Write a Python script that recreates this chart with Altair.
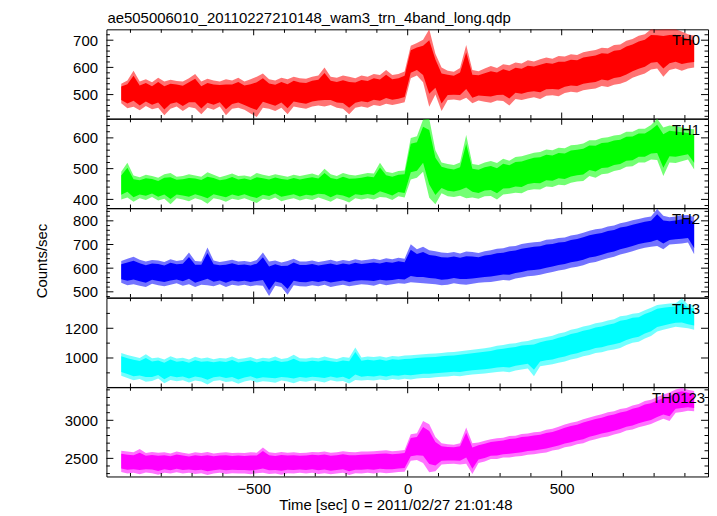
import altair as alt
import pandas as pd

# ---------------- data ----------------
TIME = list(range(-930, 931, 20))  # 20-s bins: envelope (low, high) of each bin

TH0_HI = [540, 552, 588, 548, 556, 545, 562, 548, 555, 550,
          548, 560, 576, 548, 558, 552, 548, 556, 552, 562,
          548, 556, 566, 578, 556, 552, 562, 556, 566, 560,
          558, 566, 570, 600, 566, 562, 570, 566, 560, 570,
          566, 576, 572, 590, 572, 576, 585, 680, 690, 702,
          740, 650, 600, 588, 584, 598, 682, 590, 586, 596,
          605, 598, 612, 608, 618, 614, 626, 622, 630, 636,
          632, 642, 640, 648, 646, 656, 660, 664, 672, 670,
          682, 684, 698, 704, 716, 722, 740, 738, 740, 740,
          740, 732, 722, 716]
TH0_LO = [468, 450, 455, 442, 458, 446, 452, 424, 448, 456,
          440, 454, 450, 428, 452, 444, 456, 424, 448, 452,
          444, 430, 418, 452, 448, 440, 452, 428, 456, 452,
          448, 456, 460, 456, 462, 452, 448, 428, 452, 456,
          452, 462, 458, 466, 462, 466, 472, 560, 570, 545,
          455, 500, 440, 480, 482, 478, 488, 468, 478, 474,
          470, 478, 476, 460, 484, 480, 486, 490, 484, 496,
          498, 494, 506, 510, 508, 516, 520, 522, 532, 528,
          536, 540, 548, 562, 570, 578, 592, 596, 566, 590,
          596, 588, 596, 600]

TH1_HI = [490, 519, 478, 472, 480, 476, 470, 482, 486, 474,
          476, 482, 478, 474, 488, 480, 472, 478, 484, 476,
          478, 474, 486, 480, 476, 482, 478, 474, 480, 476,
          480, 484, 478, 500, 482, 476, 486, 480, 478, 482,
          486, 484, 519, 490, 486, 492, 494, 600, 605, 660,
          662, 560, 520, 515, 512, 520, 609, 515, 512, 520,
          525, 518, 532, 526, 538, 540, 546, 552, 554, 562,
          560, 568, 566, 576, 578, 582, 592, 592, 600, 602,
          608, 610, 620, 620, 630, 630, 642, 662, 634, 640,
          638, 634, 630, 628]
TH1_LO = [400, 406, 392, 404, 398, 408, 396, 402, 384, 404,
          400, 394, 404, 398, 386, 404, 400, 392, 402, 398,
          404, 396, 388, 402, 398, 406, 394, 400, 404, 396,
          402, 398, 406, 400, 392, 404, 398, 390, 404, 400,
          404, 400, 408, 406, 398, 410, 406, 465, 470, 490,
          405, 384, 420, 410, 408, 412, 404, 406, 402, 410,
          411, 400, 416, 418, 422, 420, 430, 433, 432, 442,
          440, 448, 446, 454, 458, 460, 476, 470, 482, 484,
          492, 496, 506, 508, 520, 520, 530, 528, 476, 520,
          518, 524, 530, 497]

TH2_HI = [630, 640, 648, 636, 628, 634, 632, 626, 638, 630,
          634, 666, 630, 628, 687, 632, 626, 630, 636, 628,
          630, 626, 634, 666, 628, 632, 624, 630, 640, 628,
          628, 632, 626, 630, 636, 628, 634, 630, 638, 632,
          636, 640, 634, 642, 638, 644, 640, 701, 680, 690,
          676, 672, 666, 664, 668, 662, 670, 668, 664, 672,
          676, 682, 684, 692, 694, 702, 706, 710, 712, 720,
          722, 728, 730, 738, 742, 750, 758, 764, 768, 776,
          780, 790, 795, 802, 808, 814, 818, 850, 822, 815,
          818, 824, 825, 815]
TH2_LO = [538, 528, 532, 526, 520, 534, 528, 524, 530, 536,
          526, 532, 520, 530, 528, 524, 532, 520, 530, 526,
          530, 524, 528, 526, 482, 526, 520, 488, 528, 524,
          522, 528, 524, 530, 520, 526, 530, 524, 528, 532,
          530, 526, 534, 528, 532, 536, 534, 540, 538, 536,
          534, 532, 528, 530, 536, 532, 530, 534, 538, 540,
          542, 546, 550, 548, 556, 560, 566, 568, 572, 578,
          584, 590, 594, 602, 606, 612, 622, 626, 634, 642,
          648, 658, 664, 672, 680, 686, 690, 694, 680, 700,
          702, 704, 708, 659]

TH3_HI = [1033, 1020, 1010, 1000, 1026, 998, 1004, 990, 1012, 996,
          1002, 990, 1008, 996, 1004, 992, 1000, 996, 1010, 994,
          998, 1006, 992, 1002, 996, 1010, 994, 1000, 1022, 998,
          996, 1004, 998, 1010, 1000, 994, 1006, 1002, 1071, 1004,
          1010, 1006, 1012, 1004, 1014, 1010, 1016, 1018, 1022, 1026,
          1028, 1030, 1034, 1038, 1040, 1046, 1050, 1056, 1060, 1066,
          1072, 1082, 1088, 1096, 1100, 1110, 1114, 1126, 1133, 1142,
          1150, 1164, 1174, 1190, 1198, 1212, 1220, 1234, 1240, 1252,
          1260, 1280, 1286, 1298, 1302, 1322, 1338, 1356, 1362, 1366,
          1368, 1400, 1360, 1356]
TH3_LO = [880, 866, 850, 858, 840, 846, 862, 830, 852, 844,
          850, 836, 848, 842, 822, 846, 850, 838, 844, 826,
          842, 850, 836, 844, 840, 834, 848, 842, 830, 846,
          840, 848, 844, 836, 850, 842, 846, 828, 852, 848,
          852, 848, 856, 850, 858, 854, 860, 856, 862, 866,
          866, 870, 874, 876, 880, 878, 884, 889, 892, 896,
          900, 906, 910, 904, 916, 922, 930, 878, 944, 952,
          958, 968, 976, 990, 998, 1012, 1020, 1034, 1038, 1050,
          1058, 1067, 1088, 1102, 1110, 1132, 1148, 1178, 1190, 1200,
          1210, 1206, 1200, 1190]

TH0123_HI = [2600, 2590, 2580, 2622, 2570, 2585, 2575, 2580, 2565, 2590,
             2575, 2560, 2580, 2570, 2585, 2565, 2575, 2580, 2570, 2575,
             2570, 2580, 2575, 2643, 2580, 2570, 2585, 2575, 2580, 2570,
             2575, 2585, 2580, 2590, 2575, 2580, 2595, 2585, 2580, 2590,
             2590, 2595, 2600, 2605, 2595, 2600, 2610, 2817, 2830, 2991,
             2948, 2780, 2700, 2687, 2680, 2700, 2904, 2700, 2710, 2730,
             2752, 2765, 2772, 2795, 2798, 2820, 2826, 2842, 2850, 2875,
             2888, 2915, 2945, 2968, 2985, 3015, 3036, 3060, 3078, 3105,
             3118, 3148, 3162, 3195, 3215, 3255, 3270, 3305, 3338, 3365,
             3404, 3425, 3400, 3385]
TH0123_LO = [2320, 2300, 2310, 2290, 2315, 2305, 2285, 2310, 2300, 2318,
             2300, 2310, 2295, 2305, 2280, 2300, 2310, 2295, 2305, 2300,
             2300, 2290, 2305, 2310, 2295, 2300, 2285, 2305, 2300, 2310,
             2300, 2310, 2295, 2305, 2290, 2300, 2310, 2280, 2305, 2300,
             2310, 2300, 2315, 2305, 2310, 2320, 2325, 2470, 2480, 2440,
             2317, 2330, 2420, 2426, 2430, 2420, 2430, 2296, 2440, 2460,
             2491, 2490, 2510, 2512, 2525, 2530, 2548, 2555, 2568, 2578,
             2602, 2618, 2645, 2658, 2684, 2698, 2732, 2750, 2774, 2788,
             2812, 2832, 2865, 2878, 2908, 2928, 2950, 2988, 3022, 2991,
             3100, 3108, 3124, 3118]

NAMES = ["TH0", "TH1", "TH2", "TH3", "TH0123"]
HIS = [TH0_HI, TH1_HI, TH2_HI, TH3_HI, TH0123_HI]
LOS = [TH0_LO, TH1_LO, TH2_LO, TH3_LO, TH0123_LO]
COLORS = ["#ff0000", "#00ff00", "#0000ff", "#00ffff", "#ff00ff"]

Y_DOMAINS = [[412, 740], [372, 662], [476, 853], [805, 1405], [2262, 3434]]
Y_MAJOR = [[500, 600, 700], [400, 500, 600], [500, 600, 700, 800],
           [1000, 1200], [2500, 3000]]
Y_MINOR = [
    [420, 440, 460, 480, 520, 540, 560, 580, 620, 640, 660, 680, 720],
    [380, 420, 440, 460, 480, 520, 540, 560, 580, 620, 640, 660],
    [480, 520, 540, 560, 580, 620, 640, 660, 680, 720, 740, 760, 780, 820, 840],
    [900, 1100, 1300],
    [2300, 2400, 2600, 2700, 2800, 2900, 3100, 3200, 3300, 3400],
]
X_DOMAIN = [-978, 975]
X_MAJOR = [-500, 0, 500]
X_MINOR = [-900, -800, -700, -600, -400, -300, -200, -100,
           100, 200, 300, 400, 600, 700, 800, 900]

TITLE = "ae505006010_20110227210148_wam3_trn_4band_long.qdp"
X_TITLE = "Time [sec] 0 = 2011/02/27 21:01:48"
Y_TITLE = "Counts/sec"

# ---------------- layout ----------------
W, H = 605, 89.7
FONT = "Liberation Sans"
FS = 15
MAJ, MIN = 7, 3.5
LABEL_RIGHT = [8, 8, 8, 8, 3]


def text_layer(txt, x, y, align="left", angle=0):
    kw = dict(align=align, baseline="alphabetic", font=FONT, fontSize=FS, color="black")
    if angle:
        kw["angle"] = angle
    return alt.Chart(pd.DataFrame({"s": [txt]})).mark_text(**kw).encode(
        text="s:N", x=alt.value(x), y=alt.value(y))


def make_panel(i):
    lo, hi = LOS[i], HIS[i]
    color = COLORS[i]
    xs = alt.Scale(domain=X_DOMAIN, nice=False, zero=False)
    ys = alt.Scale(domain=Y_DOMAINS[i], nice=False, zero=False)
    last = i == len(NAMES) - 1

    if last:
        xaxis = alt.Axis(values=X_MAJOR, ticks=False, domain=False, grid=False,
                         labelFont=FONT, labelFontSize=FS, labelColor="black",
                         labelPadding=5, labelFlush=False, title=None)
    else:
        xaxis = None
    yaxis = alt.Axis(values=Y_MAJOR[i], format="d", ticks=False, domain=False,
                     grid=False, labelFont=FONT, labelFontSize=FS,
                     labelColor="black", labelPadding=9, title=None)

    band = pd.DataFrame({"t": TIME, "lo": lo, "hi": hi})
    base = alt.Chart(band).encode(
        x=alt.X("t:Q", scale=xs, axis=xaxis),
        y=alt.Y("lo:Q", scale=ys, axis=yaxis),
        y2="hi:Q")
    outer = base.mark_area(color=color, opacity=0.55, clip=True)
    inner = base.mark_area(color=color, opacity=1, clip=True).transform_calculate(
        lo="datum.lo + 0.17 * (datum.hi - datum.lo)",
        hi="datum.hi - 0.17 * (datum.hi - datum.lo)")

    layers = [outer, inner]
    # inward ticks on all four sides
    for vals, ln in ((Y_MAJOR[i], MAJ), (Y_MINOR[i], MIN)):
        df = pd.DataFrame({"lo": vals})
        for a, b in ((0, ln), (W - ln, W)):
            layers.append(alt.Chart(df).mark_rule(color="black", strokeWidth=1).encode(
                y=alt.Y("lo:Q", scale=ys, axis=yaxis),
                x=alt.value(a), x2=alt.value(b)))
    for vals, ln in ((X_MAJOR, MAJ - 1), (X_MINOR, MIN)):
        df = pd.DataFrame({"t": vals})
        for a, b in ((0, ln), (H - ln, H)):
            layers.append(alt.Chart(df).mark_rule(color="black", strokeWidth=1).encode(
                x=alt.X("t:Q", scale=xs, axis=xaxis),
                y=alt.value(a), y2=alt.value(b)))

    layers.append(text_layer(NAMES[i], W - LABEL_RIGHT[i], 16, align="right"))
    if i == 0:
        layers.append(text_layer(TITLE, 1, -6.6))
    if i == 2:
        layers.append(text_layer(Y_TITLE, -59.5, 53, align="center", angle=270))
    if last:
        layers.append(text_layer(X_TITLE, 291, H + 33.5, align="center"))
    return alt.layer(*layers).properties(width=W, height=H)


chart = alt.vconcat(*[make_panel(i) for i in range(len(NAMES))],
                    spacing=0, bounds="flush").resolve_scale(
    x="independent", y="independent"
).properties(
    padding={"left": 27, "top": 0, "right": 0, "bottom": 0},
    background="white",
).configure_view(stroke="black", strokeWidth=1)

chart.save("out.html", embed_options={"renderer": "svg", "actions": False})
